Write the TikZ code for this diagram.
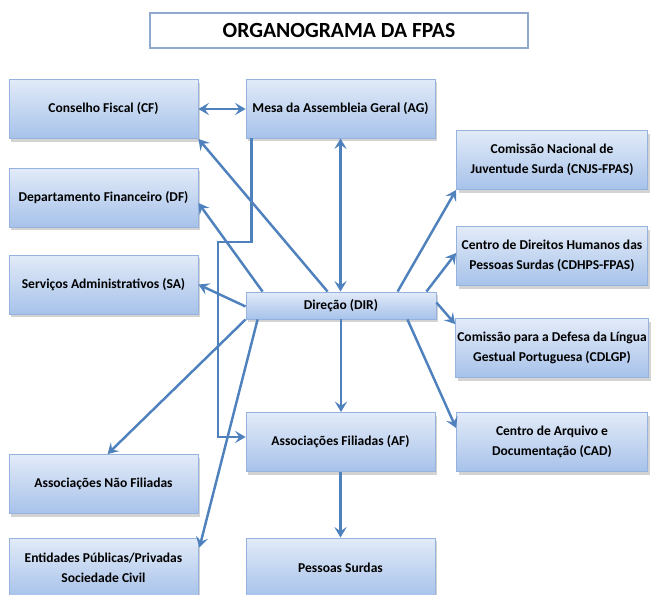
\documentclass[tikz,border=0pt]{standalone}
\usepackage{fontspec}
\setmainfont{Carlito}
\usetikzlibrary{arrows.meta,calc,shadows}
\definecolor{boxtop}{HTML}{E2EBF8}
\definecolor{boxbot}{HTML}{A7C2EA}
\definecolor{boxline}{HTML}{96B3DF}
\definecolor{arrowblue}{HTML}{4F81BD}
\tikzset{
  orgbox/.style={draw=boxline, line width=0.5pt, top color=boxtop, bottom color=boxbot,
    minimum width=3.78cm, minimum height=1.18cm, align=center, inner sep=1pt,
    font=\fontsize{7.7}{11.3}\selectfont\bfseries,
    drop shadow={shadow xshift=1.2pt, shadow yshift=-1.8pt, opacity=0.35}},
  link/.style={draw=arrowblue, line width=1.4pt,
    >={Stealth[length=6pt, width=7pt, inset=2.4pt]}}
}
\begin{document}
\begin{tikzpicture}[x=0.02cm, y=-0.02cm]
    \useasboundingbox (0,0) rectangle (651,594);
    % Title
    \node[draw=boxline!80!gray, line width=1pt, fill=white, minimum width=7.56cm, minimum height=0.7cm,
      font=\fontsize{12.3}{14}\selectfont\bfseries] (title) at (339,30.5) {ORGANOGRAMA DA FPAS};

    % Left column
    \node[orgbox] (cf) at (103.5,109) {Conselho Fiscal (CF)};
    \node[orgbox] (df) at (103.5,197.5) {Departamento Financeiro (DF)};
    \node[orgbox] (sa) at (103.5,284.5) {Serviços Administrativos (SA)};
    \node[orgbox] (anf) at (103.5,484) {Associações Não Filiadas};
    \node[orgbox] (epp) at (103.5,567.5) {Entidades Públicas/Privadas\\Sociedade Civil};

    % Middle column
    \node[orgbox] (ag) at (340.5,108.5) {Mesa da Assembleia Geral (AG)};
    \node[orgbox, minimum width=3.8cm, minimum height=0.54cm] (dir) at (341,305.5) {Direção (DIR)};
    \node[orgbox] (af) at (340.5,442) {Associações Filiadas (AF)};
    \node[orgbox] (ps) at (340.5,567.5) {Pessoas Surdas};

    % Right column
    \node[orgbox, minimum width=3.82cm] (cnjs) at (552,160) {Comissão Nacional de\\Juventude Surda (CNJS-FPAS)};
    \node[orgbox, minimum width=3.82cm] (cdhps) at (552,256) {Centro de Direitos Humanos das\\Pessoas Surdas (CDHPS-FPAS)};
    \node[orgbox, minimum width=3.82cm] (cdlgp) at (552,348) {Comissão para a Defesa da Língua\\Gestual Portuguesa (CDLGP)};
    \node[orgbox, minimum width=3.82cm] (cad) at (552,442) {Centro de Arquivo e\\Documentação (CAD)};

    % Two-way links
    \draw[link, <->] (cf.east) -- (cf.east -| ag.west);
    \draw[link, <->] (ag.south) -- (ag.south |- dir.north);

    % Links out of the direction
    \draw[link, ->] ($(dir.north west)+(82,0)$) -- (cf.south east);
    \draw[link, ->] ($(dir.north west)+(17,0)$) -- ($(df.east)+(0,5.5)$);
    \draw[link, ->] ($(dir.west)+(0,1)$) -- (sa.east);
    \draw[link, ->] (dir.south west) -- ($(anf.north west)+(99,0)$);
    \draw[link, ->] ($(dir.south west)+(12,0)$) -- ($(epp.north east)+(1,10)$);
    \draw[link, ->] (dir.south) -- (dir.south |- af.north);
    \draw[link, ->] ($(dir.north west)+(152,0)$) -- (cnjs.south west);
    \draw[link, ->] ($(dir.north east)+(-10,0)$) -- ($(cdhps.west)+(0,-3)$);
    \draw[link, ->] ($(dir.east)+(0,-3)$) -- ($(cdlgp.north west)+(0,6)$);
    \draw[link, ->] ($(dir.south east)+(-29,0)$) -- ($(cad.west)+(0,-14)$);

    % Assembly to affiliated associations
    \coordinate (elbow) at (218,242);
    \draw[link, ->] ($(ag.south west)+(6,0)$) |- (elbow) |- ($(af.west)+(0,-5)$);
    \draw[link, ->] (af.south) -- (af.south |- ps.north);
\end{tikzpicture}
\end{document}
